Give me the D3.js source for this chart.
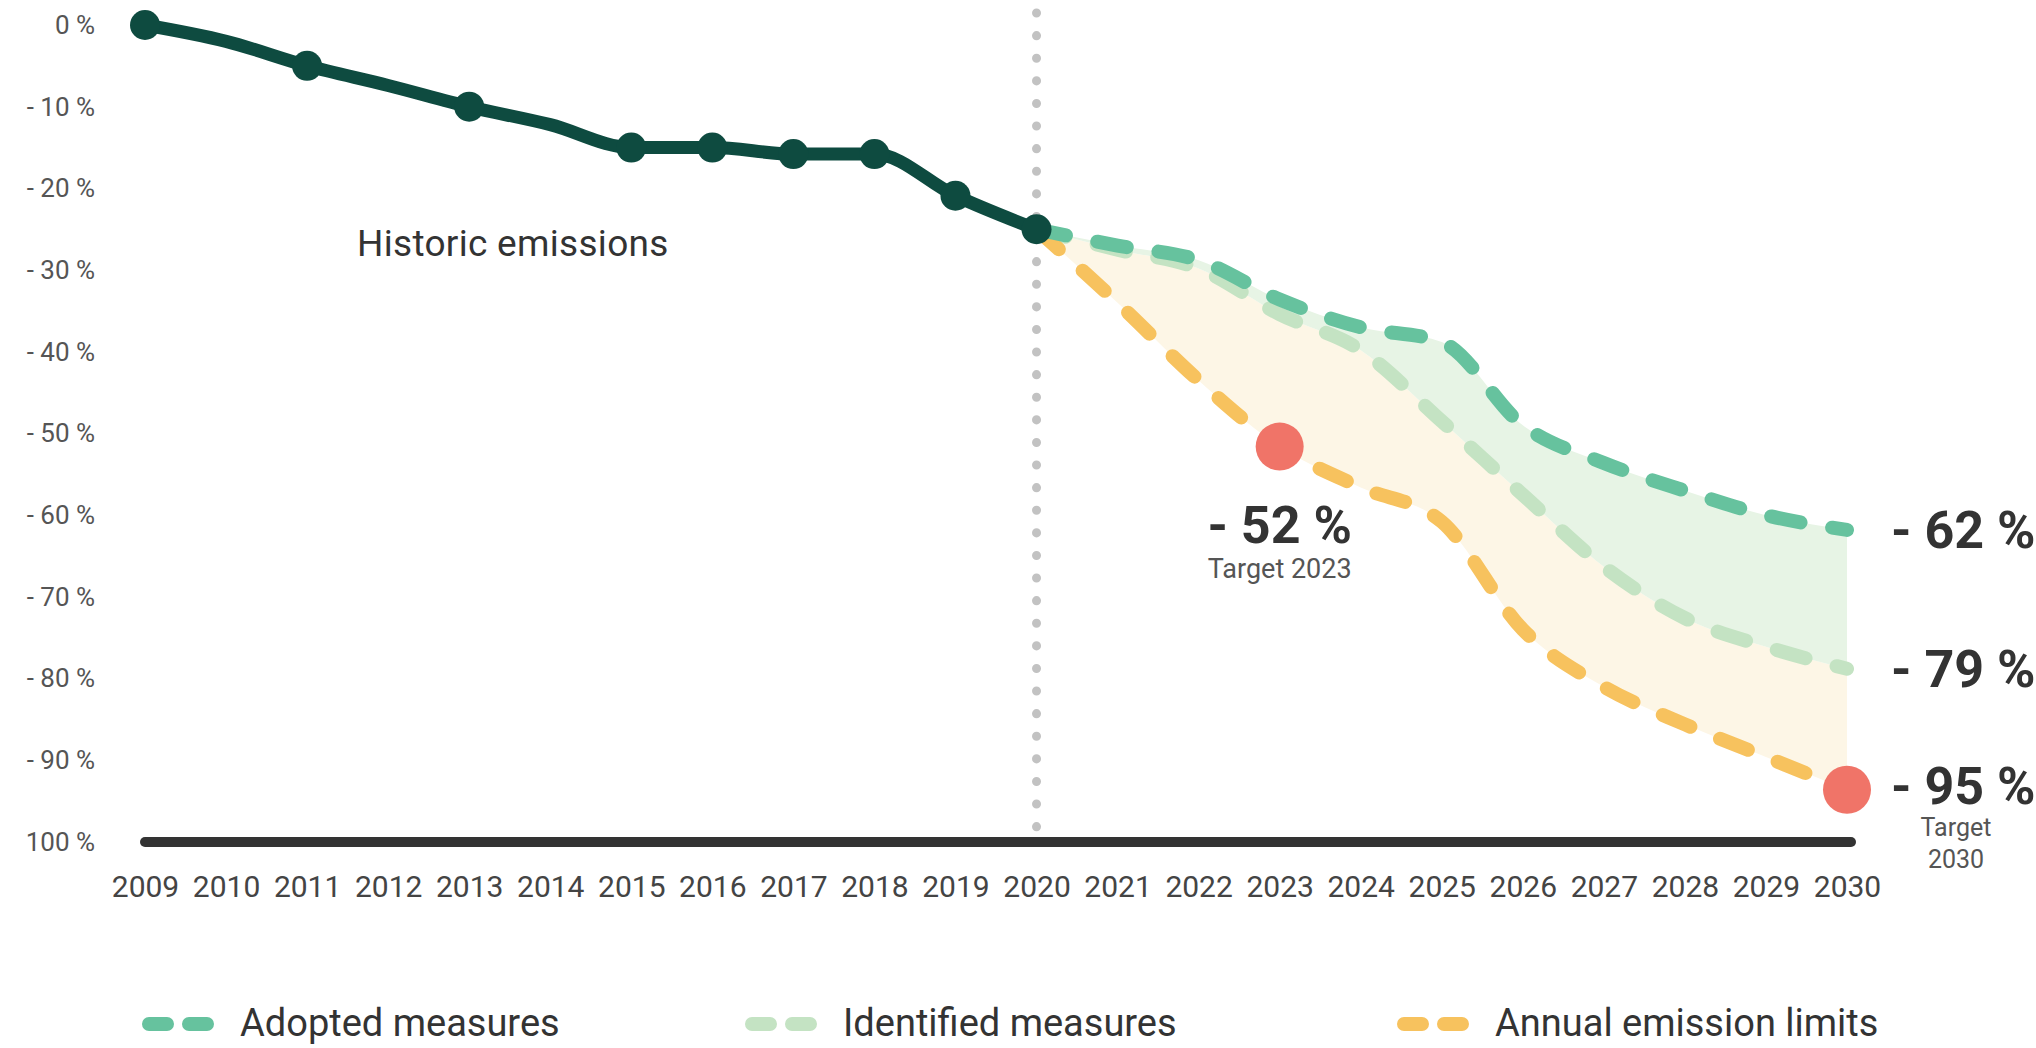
<!DOCTYPE html>
<meta charset="utf-8">
<script src="https://d3js.org/d3.v7.min.js"></script>
<style>
  body { margin: 0; background: #fff; }
  text { font-family: Roboto, "Liberation Sans", sans-serif; }
</style>
<div id="chart"></div>
<script>
// data
var years = d3.range(2009, 2031);
var yTicks = [0, -10, -20, -30, -40, -50, -60, -70, -80, -90, -100];
var yTickLabels = ["0 %", "- 10 %", "- 20 %", "- 30 %", "- 40 %", "- 50 %", "- 60 %", "- 70 %", "- 80 %", "- 90 %", "100 %"];

var histYears  = [2009, 2010, 2011, 2012, 2013, 2014, 2015, 2016, 2017, 2018, 2019, 2020];
var histValues = [0, -2, -5, -7.4, -10, -12.2, -15, -15, -15.8, -15.8, -20.9, -25];
var histMarkers = [2009, 2011, 2013, 2015, 2016, 2017, 2018, 2019, 2020];

var projYears  = [2020, 2021, 2022, 2023, 2024, 2025, 2026, 2027, 2028, 2029, 2030];
var adopted    = [-25, -27, -28.8, -33.6, -37, -38.8, -49, -53.6, -57, -60, -61.8];
var identified = [-25, -27.5, -29.8, -35.4, -39.8, -48.5, -57.5, -66.3, -72.6, -76.1, -78.8];
var limits     = [-25, -34, -43.5, -51.6, -56.6, -60.8, -74, -81, -85.6, -89.6, -93.6];

var targets = [{year: 2023, value: -51.6, label: "- 52 %", note: ["Target 2023"]},
               {year: 2030, value: -93.6, label: "- 95 %", note: ["Target", "2030"]}];
var endLabels = [{value: -61.8, label: "- 62 %"}, {value: -78.8, label: "- 79 %"}];

var legendItems = ["Adopted measures", "Identified measures", "Annual emission limits"];
var legendColors = ["#66c29e", "#c4e3c3", "#f7c25e"];

var W = 2036, H = 1048;
var svg = d3.select("#chart").append("svg")
  .attr("width", W).attr("height", H);

var x = d3.scaleLinear().domain([2009, 2030]).range([145, 1847]);
var y = d3.scaleLinear().domain([0, -100]).range([25, 842]);

// y axis labels
var yAxis = svg.append("g")
  .attr("transform", "translate(95,0)")
  .call(d3.axisLeft(y).tickValues(yTicks).tickSize(0).tickPadding(0)
    .tickFormat(function(d, i) { return yTickLabels[i]; }));
yAxis.select(".domain").remove();
yAxis.selectAll("text")
  .style("font-family", "Roboto, sans-serif")
  .style("font-size", "26px")
  .attr("fill", "#555");

// x axis labels
var xAxis = svg.append("g")
  .attr("transform", "translate(0,876)")
  .call(d3.axisBottom(x).tickValues(years).tickSize(0).tickPadding(0)
    .tickFormat(d3.format("d")));
xAxis.select(".domain").remove();
xAxis.selectAll("text")
  .style("font-family", "Roboto, sans-serif")
  .style("font-size", "30px")
  .attr("fill", "#444");

// zip the projections
var proj = projYears.map(function(yr, i) {
  return {year: yr, a: adopted[i], b: identified[i], c: limits[i]};
});
var curve = d3.curveMonotoneX;

// fills
svg.append("path")
  .datum(proj)
  .attr("fill", "#fdf6e6")
  .attr("d", d3.area().curve(curve)
    .x(function(d) { return x(d.year); })
    .y0(function(d) { return y(d.b); })
    .y1(function(d) { return y(d.c); }));
svg.append("path")
  .datum(proj)
  .attr("fill", "#e7f4e5")
  .attr("d", d3.area().curve(curve)
    .x(function(d) { return x(d.year); })
    .y0(function(d) { return y(d.a); })
    .y1(function(d) { return y(d.b); }));

// dotted line at 2020
svg.append("line")
  .attr("x1", x(2020)).attr("x2", x(2020))
  .attr("y1", 13).attr("y2", 830)
  .attr("stroke", "#c2c2c2")
  .attr("stroke-width", 9)
  .attr("stroke-linecap", "round")
  .attr("stroke-dasharray", "0.1 22.5");

// baseline
svg.append("line")
  .attr("x1", x(2009)).attr("x2", x(2030) + 4)
  .attr("y1", y(-100)).attr("y2", y(-100))
  .attr("stroke", "#333")
  .attr("stroke-width", 10)
  .attr("stroke-linecap", "round");

// dashed projection lines
var keys = ["b", "c", "a"];
var keyColor = {a: legendColors[0], b: legendColors[1], c: legendColors[2]};
keys.forEach(function(k) {
  svg.append("path")
    .datum(proj)
    .attr("fill", "none")
    .attr("stroke", keyColor[k])
    .attr("stroke-width", 14)
    .attr("stroke-linecap", "round")
    .attr("stroke-dasharray", "30 32")
    .attr("d", d3.line().curve(curve)
      .x(function(d) { return x(d.year); })
      .y(function(d) { return y(d[k]); }));
});

// historic line
var hist = histYears.map(function(yr, i) { return {year: yr, v: histValues[i]}; });
svg.append("path")
  .datum(hist)
  .attr("fill", "none")
  .attr("stroke", "#0e4b40")
  .attr("stroke-width", 13)
  .attr("stroke-linejoin", "round")
  .attr("d", d3.line().curve(curve)
    .x(function(d) { return x(d.year); })
    .y(function(d) { return y(d.v); }));
svg.selectAll(".hdot")
  .data(hist.filter(function(d) { return histMarkers.indexOf(d.year) >= 0; }))
  .enter().append("circle")
  .attr("class", "hdot")
  .attr("cx", function(d) { return x(d.year); })
  .attr("cy", function(d) { return y(d.v); })
  .attr("r", 15)
  .attr("fill", "#0e4b40");

svg.append("text")
  .attr("x", 357).attr("y", 256)
  .attr("fill", "#333")
  .style("font-size", "37px")
  .style("letter-spacing", "0.3px")
  .text("Historic emissions");

// target dots
svg.selectAll(".tdot")
  .data(targets)
  .enter().append("circle")
  .attr("cx", function(d) { return x(d.year); })
  .attr("cy", function(d) { return y(d.value); })
  .attr("r", 24)
  .attr("fill", "#f07468");

// -52 % label under the 2023 target
svg.append("text")
  .attr("x", x(2023)).attr("y", 543)
  .attr("text-anchor", "middle")
  .attr("fill", "#333")
  .style("font-size", "52px").style("font-weight", "bold")
  .text(targets[0].label);
svg.append("text")
  .attr("x", x(2023)).attr("y", 578)
  .attr("text-anchor", "middle")
  .attr("fill", "#555")
  .style("font-size", "27px")
  .text(targets[0].note[0]);

// end labels
endLabels.forEach(function(d) {
  svg.append("text")
    .attr("x", 1891).attr("y", y(d.value) + 18)
    .attr("fill", "#333")
    .style("font-size", "52px").style("font-weight", "bold")
    .text(d.label);
});
svg.append("text")
  .attr("x", 1891).attr("y", y(targets[1].value) + 14)
  .attr("fill", "#333")
  .style("font-size", "52px").style("font-weight", "bold")
  .text(targets[1].label);
targets[1].note.forEach(function(t, i) {
  svg.append("text")
    .attr("x", 1956).attr("y", 836 + i * 32)
    .attr("text-anchor", "middle")
    .attr("fill", "#555")
    .style("font-size", "25px")
    .text(t);
});

// legend
var legendX = [143, 746, 1398];
var legend = svg.selectAll(".leg")
  .data(legendItems)
  .enter().append("g")
  .attr("transform", function(d, i) { return "translate(" + legendX[i] + ",1024)"; });
legend.append("line")
  .attr("x1", 6).attr("x2", 64)
  .attr("stroke", function(d, i) { return legendColors[i]; })
  .attr("stroke-width", 14)
  .attr("stroke-linecap", "round")
  .attr("stroke-dasharray", "18 22");
legend.append("text")
  .attr("x", 97).attr("y", 12)
  .attr("fill", "#333")
  .style("font-size", "38px")
  .text(function(d) { return d; });
</script>
